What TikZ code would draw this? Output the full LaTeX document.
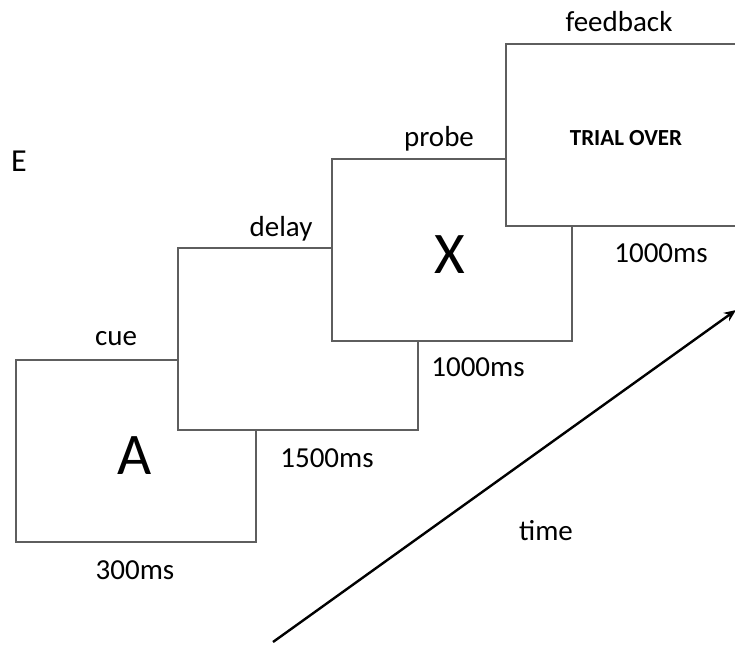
\documentclass[tikz,border=0pt]{standalone}
\usepackage{fontspec}
\setmainfont{Carlito}
\usetikzlibrary{arrows.meta}
\definecolor{framegray}{HTML}{5E5E5E}
\begin{document}
\begin{tikzpicture}[x=1pt,y=-1pt,
  screen/.style={draw=framegray, line width=1.6pt, fill=white,
    minimum width=240pt, minimum height=182pt, inner sep=0pt, anchor=north west},
  lbl/.style={font=\fontsize{29}{31}\selectfont, inner sep=0pt},
  stim/.style={font=\fontsize{59}{61}\selectfont, inner sep=0pt},
  fb/.style={font=\bfseries\fontsize{23}{25}\selectfont, inner sep=0pt},
  timearrow/.style={line width=2.4pt, -{Stealth[length=12pt,width=10pt]}}]
\useasboundingbox (0,0) rectangle (735,646);
\clip (0,0) rectangle (735,646);

% panel letter
\node[lbl, font=\fontsize{32}{34}\selectfont] (panel) at (19,161) {E};

% screens, each later one laid over the previous
\node[screen] (cuebox) at (15,359) {};
\node[screen] (delaybox) at (177,247) {};
\node[screen] (probebox) at (331,158) {};
\node[screen] (fbbox) at (505,43) {};

% stimuli
\node[stim] (letA) at (135,456) {A};
\node[stim] (letX) at (450,255) {X};
\node[fb] (over) at (626,138) {TRIAL OVER};

% phase names
\node[lbl] (cuelbl) at (116,339) {cue};
\node[lbl] (delaylbl) at (281,229) {delay};
\node[lbl] (probelbl) at (439,139) {probe};
\node[lbl] (fblbl) at (619,22) {feedback};

% durations
\node[lbl] (d1) at (135,570) {300ms};
\node[lbl] (d2) at (327,458) {1500ms};
\node[lbl] (d3) at (478,367) {1000ms};
\node[lbl] (d4) at (661,253) {1000ms};

% time axis
\coordinate (tstart) at (273,642);
\coordinate (tend) at (736,310);
\draw[timearrow] (tstart) -- (tend);
\node[lbl] (timelbl) at (546,531) {time};
\end{tikzpicture}
\end{document}
